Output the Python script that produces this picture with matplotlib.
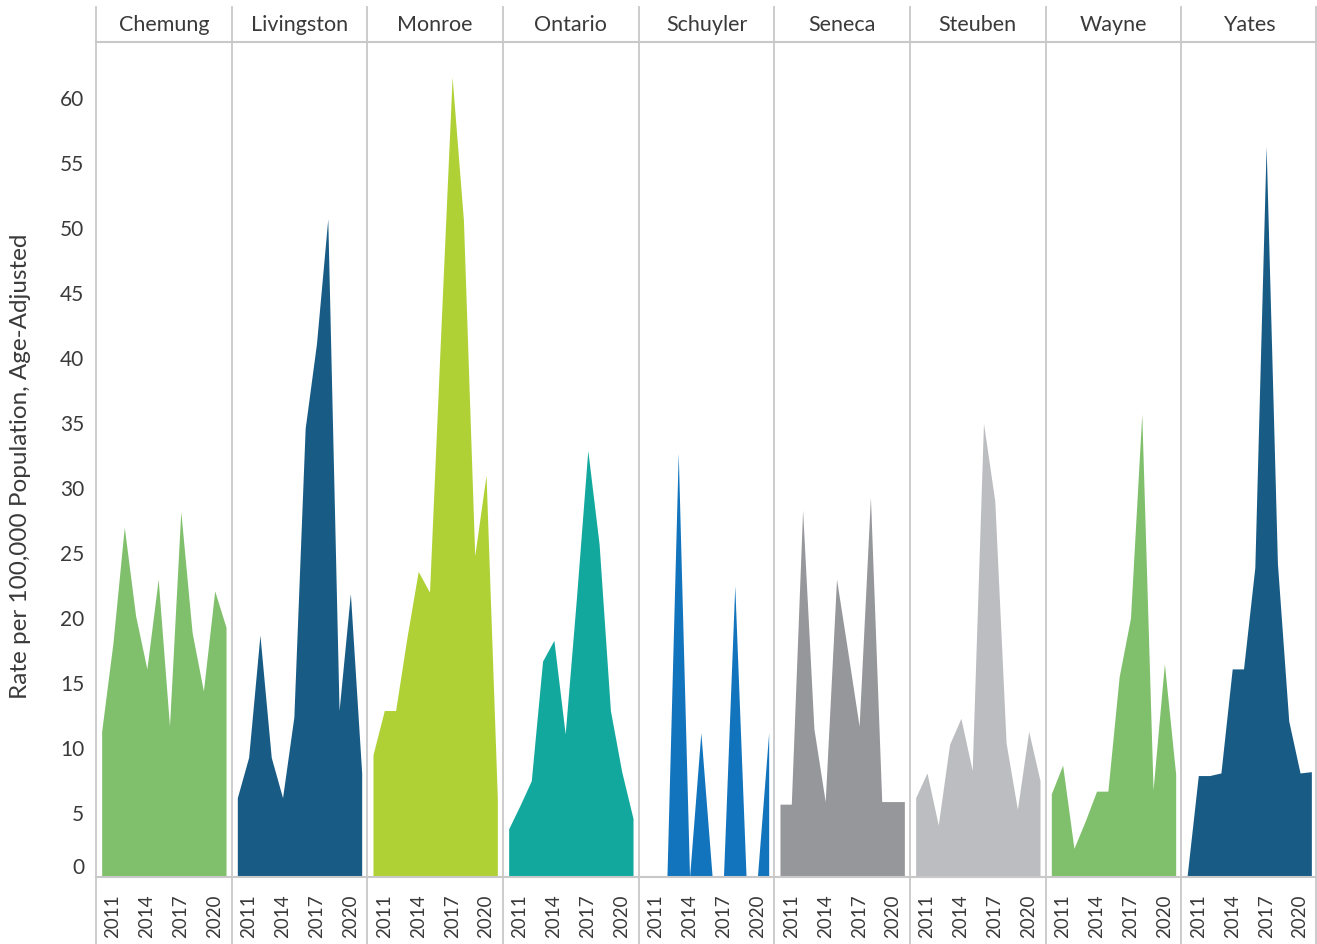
import numpy as np
import matplotlib
matplotlib.use("Agg")
from matplotlib import pyplot as plt
from matplotlib.lines import Line2D
import matplotlib.transforms as mtransforms

plt.rcParams['font.family'] = ['Lato', 'DejaVu Sans']

years = list(range(2010, 2022))
counties = ["Chemung", "Livingston", "Monroe", "Ontario", "Schuyler",
            "Seneca", "Steuben", "Wayne", "Yates"]

chemung = [11.2, 18.0, 26.9, 20.1, 16.0, 22.9, 11.6, 28.1, 18.8, 14.3, 22.0, 19.2]
livingston = [6.1, 9.2, 18.6, 9.2, 6.1, 12.3, 34.5, 41.0, 50.6, 12.8, 21.8, 8.0]
monroe = [9.4, 12.8, 12.8, 18.4, 23.5, 21.9, 42.0, 61.5, 50.5, 24.7, 30.9, 6.0]
ontario = [3.7, 5.5, 7.4, 16.6, 18.2, 11.0, 21.5, 32.8, 25.6, 12.8, 8.1, 4.5]
schuyler = [0, 0, 0, 32.6, 0, 11.1, 0, 0, 22.4, 0, 0, 11.1]
seneca = [5.6, 5.6, 28.2, 11.4, 5.8, 22.9, 17.3, 11.6, 29.2, 5.8, 5.8, 5.8]
steuben = [6.1, 8.0, 4.0, 10.2, 12.2, 8.2, 34.9, 28.9, 10.3, 5.2, 11.2, 7.4]
wayne = [6.4, 8.6, 2.2, 4.3, 6.6, 6.6, 15.4, 19.9, 35.6, 6.7, 16.4, 7.9]
yates = [0, 7.8, 7.8, 8.0, 16.0, 16.0, 23.8, 56.2, 24.1, 12.0, 8.0, 8.1]

series = [chemung, livingston, monroe, ontario, schuyler, seneca, steuben, wayne, yates]
colors = ["#80C06C", "#185C86", "#B0D136", "#13A89E", "#1174BD",
          "#96979B", "#BCBDC1", "#80C06C", "#185C86"]

W, H = 1317, 945
fig = plt.figure(figsize=(W / 100, H / 100), dpi=100)

left_px, right_px = 96, 1317
top_px, base_px = 43, 878
pw = (right_px - left_px) / len(counties)
grid_c = "#C8C8C8"
text_c = "#3A3A3A"

for i, (name, vals, col) in enumerate(zip(counties, series, colors)):
    x0 = left_px + i * pw
    ax = fig.add_axes([x0 / W, (H - base_px) / H, pw / W, (base_px - top_px) / H])
    ax.fill_between(years, vals, 0, color=col, lw=0)
    ax.set_xlim(2009.5, 2021.5)
    ax.set_ylim(0, 64.2)
    for s in ax.spines.values():
        s.set_visible(False)
    ax.set_xticks([2011, 2014, 2017, 2020])
    ax.set_xticklabels(["2011", "2014", "2017", "2020"], rotation=90,
                       fontsize=13.5, color=text_c)
    ax.tick_params(axis="x", length=0, pad=12)
    if i == 0:
        ax.set_yticks(range(0, 61, 5))
        ax.set_yticklabels([str(v) for v in range(0, 61, 5)], fontsize=15, color=text_c)
        ax.tick_params(axis="y", length=0, pad=8.5)
        # the 0 label sits a bit above its tick in the original
        lab0 = ax.get_yticklabels()[0]
        lab0.set_transform(lab0.get_transform() +
                           mtransforms.ScaledTranslation(0, 12 / 100, fig.dpi_scale_trans))
    else:
        ax.set_yticks([])
    # header
    fig.text((x0 + pw / 2) / W, 1 - 25 / H, name, ha="center", va="center",
             fontsize=15.5, color=text_c)

fig.text(21 / W, 1 - 466 / H, "Rate per 100,000 Population, Age-Adjusted",
         rotation=90, ha="center", va="center", fontsize=17.5, color=text_c)

# separators and rules
for i in range(len(counties) + 1):
    x = (left_px + i * pw) / W
    if i == len(counties):
        x = (right_px - 1) / W
    fig.add_artist(Line2D([x, x], [0, 1 - 8 / H], color=grid_c, lw=1.3))
for y in (top_px, base_px):
    fig.add_artist(Line2D([left_px / W, 1], [1 - y / H, 1 - y / H], color=grid_c, lw=1.5))

fig.savefig("out.png", dpi=100)
